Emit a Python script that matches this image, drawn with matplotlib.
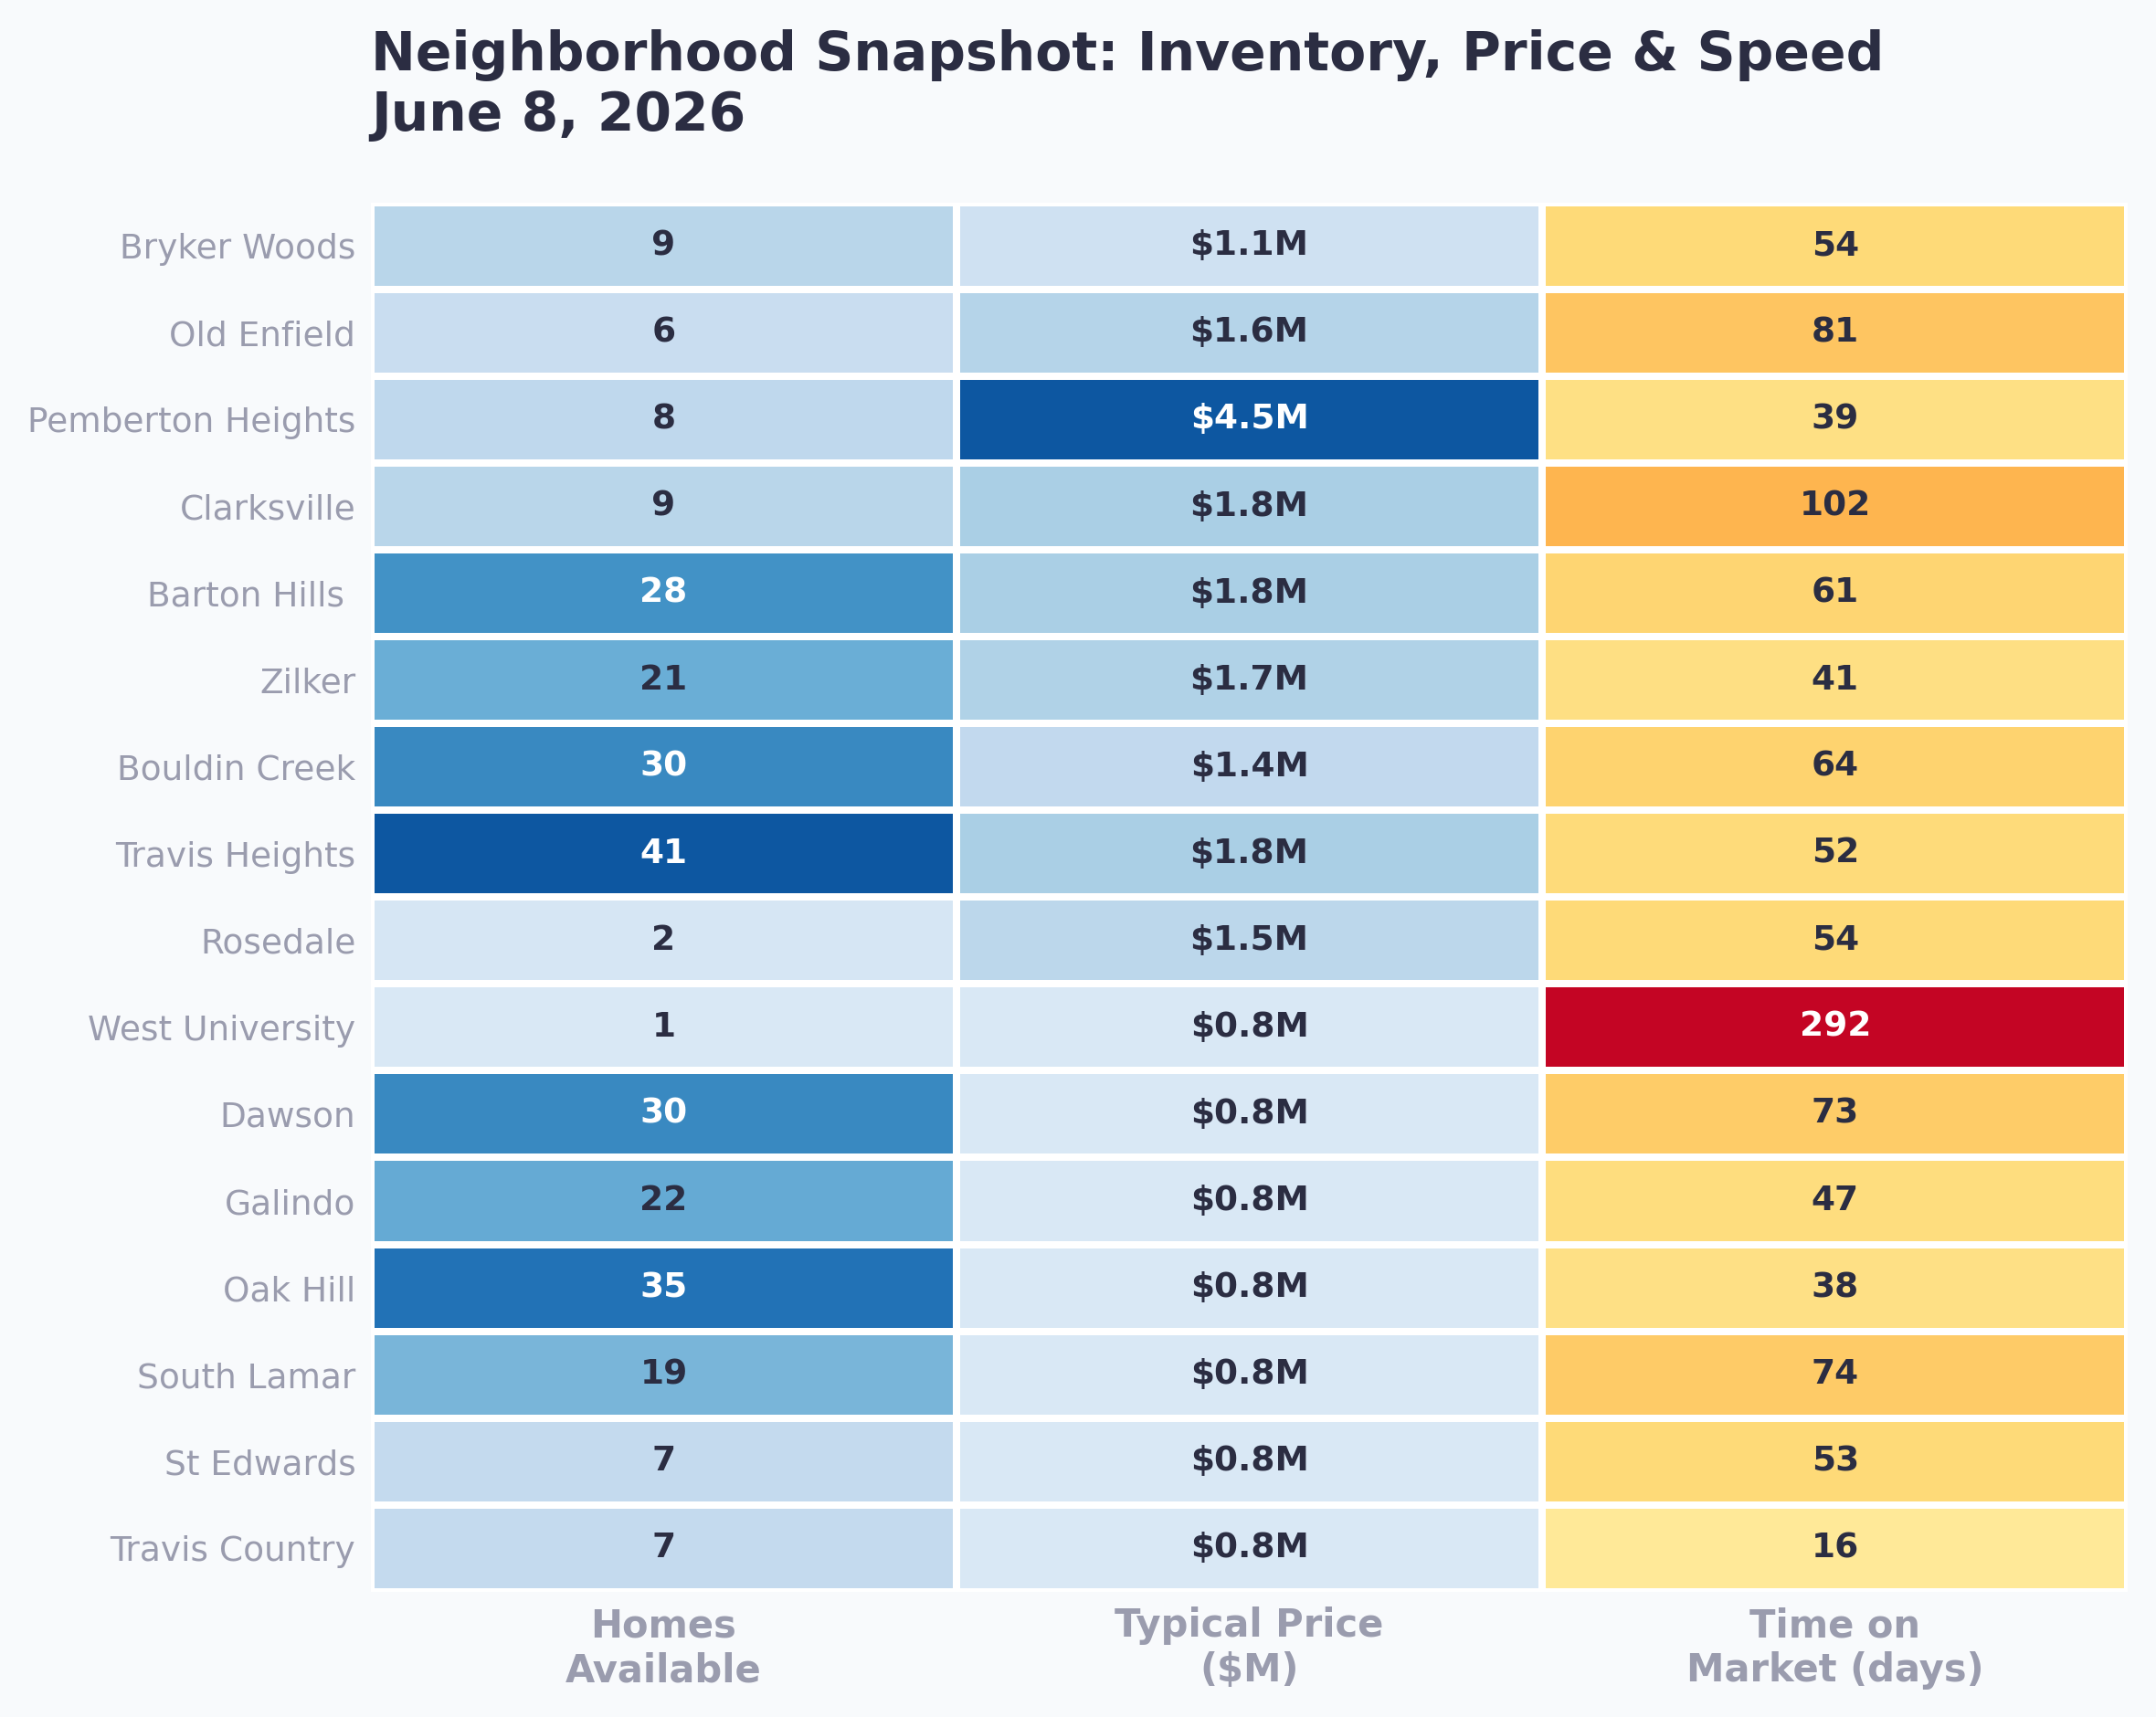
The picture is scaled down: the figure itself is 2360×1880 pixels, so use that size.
import numpy as np
import matplotlib
matplotlib.use('Agg')
import matplotlib.pyplot as plt
from matplotlib.colors import ListedColormap, Normalize

neighborhoods = ["Bryker Woods", "Old Enfield", "Pemberton Heights", "Clarksville",
                 "Barton Hills ", "Zilker", "Bouldin Creek", "Travis Heights",
                 "Rosedale", "West University", "Dawson", "Galindo", "Oak Hill",
                 "South Lamar", "St Edwards", "Travis Country"]
homes = [9, 6, 8, 9, 28, 21, 30, 41, 2, 1, 30, 22, 35, 19, 7, 7]
price = [1.1, 1.6, 4.5, 1.8, 1.8, 1.7, 1.4, 1.8, 1.5, 0.8, 0.8, 0.8, 0.8, 0.8, 0.8, 0.8]
days = [54, 81, 39, 102, 61, 41, 64, 52, 54, 292, 73, 47, 38, 74, 53, 16]
col_labels = ["Homes\nAvailable", "Typical Price\n($M)", "Time on\nMarket (days)"]

bg = '#f8fafc'
dark = '#2b2d42'
grey = '#9a9cae'

def trunc(name):
    return ListedColormap(plt.get_cmap(name)(np.linspace(0.15, 0.85, 256)))

columns = [
    (homes, trunc('Blues'), lambda v: f"{v}"),
    (price, trunc('Blues'), lambda v: f"${v:.1f}M"),
    (days, trunc('YlOrRd'), lambda v: f"{v}"),
]

fig = plt.figure(figsize=(11.8, 9.4), dpi=200, facecolor=bg)
ax = fig.add_axes([0.172, 0.073, 0.815, 0.809])
ax.set_facecolor(bg)

n = len(neighborhoods)
yedges = np.arange(n + 1)
for j, (vals, cmap, fmt) in enumerate(columns):
    arr = np.array(vals, dtype=float).reshape(-1, 1)
    norm = Normalize(vmin=arr.min(), vmax=arr.max())
    ax.pcolormesh([j, j + 1], yedges, arr, cmap=cmap, norm=norm,
                  edgecolors='white', linewidth=2.2)
    for i, v in enumerate(vals):
        c = 'white' if norm(v) > 0.6 else dark
        ax.text(j + 0.5, i + 0.5, fmt(v), ha='center', va='center',
                fontsize=13.5, fontweight='bold', color=c)

ax.set_xlim(0, 3)
ax.set_ylim(n, 0)
ax.set_yticks(np.arange(n) + 0.5)
ax.set_yticklabels(neighborhoods, fontsize=13.5, color=grey)
ax.set_xticks(np.arange(3) + 0.5)
ax.set_xticklabels(col_labels, fontsize=15, fontweight='bold', color=grey)
ax.tick_params(length=0, pad=6)
for s in ax.spines.values():
    s.set_visible(False)

fig.text(0.172, 0.983, "Neighborhood Snapshot: Inventory, Price & Speed\nJune 8, 2026",
         ha='left', va='top', fontsize=21, fontweight='bold', color=dark,
         linespacing=1.2)

fig.savefig('out.png', dpi=200, facecolor=bg)
